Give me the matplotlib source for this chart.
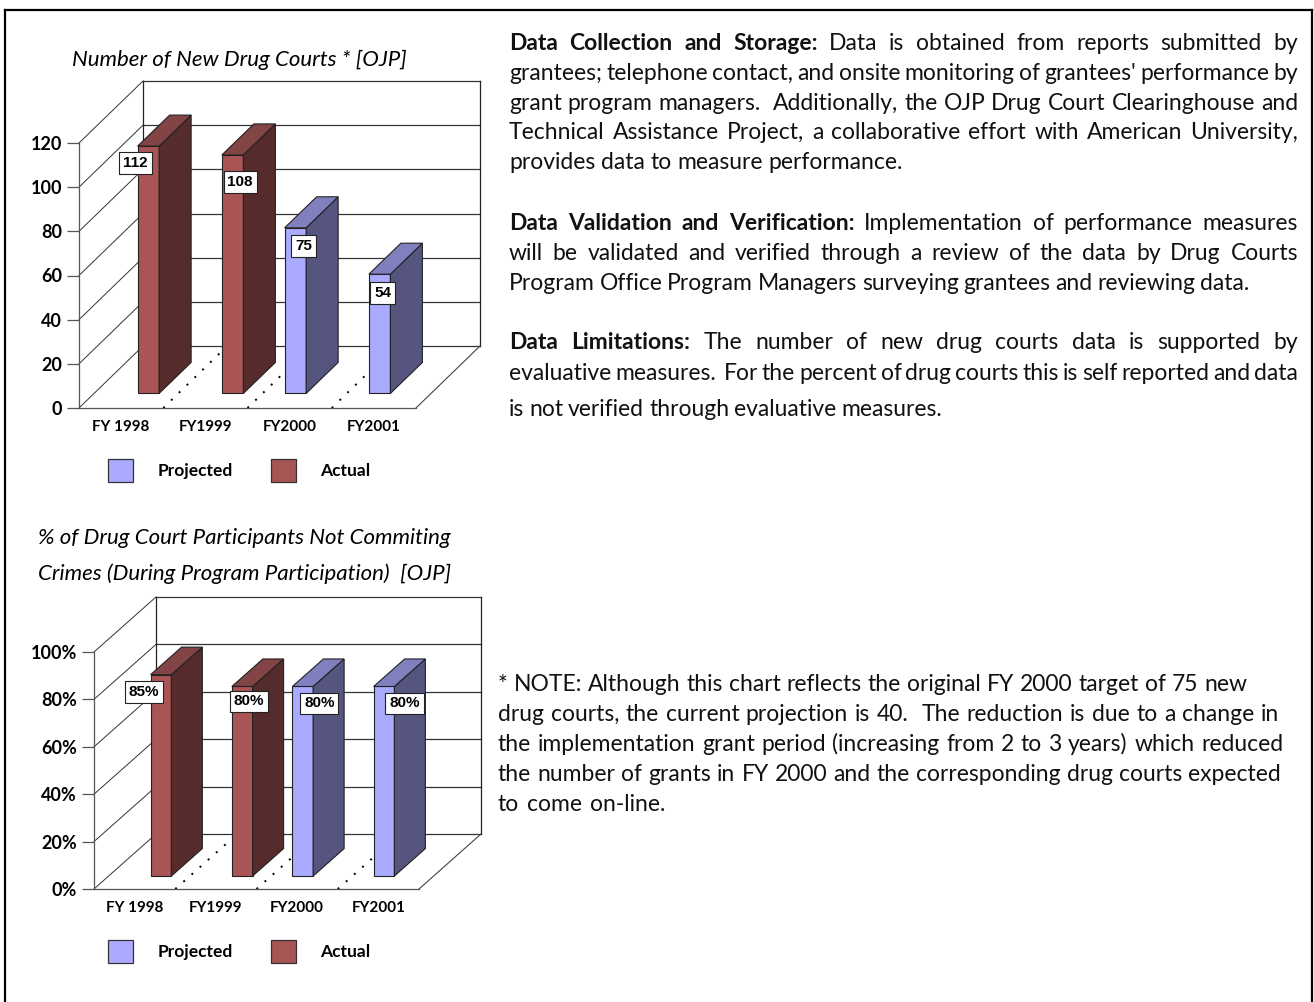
import matplotlib
matplotlib.use('Agg')
import matplotlib.pyplot as plt
from matplotlib.lines import Line2D
from matplotlib.patches import Patch

W, H = 1314, 1002

# chart data
years = ['FY 1998', 'FY1999', 'FY2000', 'FY2001']
is_actual = [True, True, False, False]
courts = [112, 108, 75, 54]
courts_ticks = [0, 20, 40, 60, 80, 100, 120]
courts_ticklabels = ['0', '20', '40', '60', '80', '100', '120']
pct = [85, 80, 80, 80]
pct_labels = ['85%', '80%', '80%', '80%']
pct_ticks = [0, 20, 40, 60, 80, 100]
pct_ticklabels = ['0%', '20%', '40%', '60%', '80%', '100%']
legend_names = ['Projected', 'Actual']

# colours: front, side, top
RED = ('#AA5555', '#562B2B', '#824444')
BLUE = ('#AAAAFF', '#555580', '#8080BF')
FONT = 'Lato'

fig = plt.figure(figsize=(W / 100, H / 100), dpi=100, facecolor='white')


def fx(x):
    return x / W


def fy(y):
    return 1 - y / H


def pts(p):  # pixels to points
    return p * 0.72


def bar3d_chart(left, right, base, top, depth_x, depth_y, values, labels, ticks, ticklabels, nudges, legend_y):
    ax = fig.add_axes([fx(left), fy(base), fx(right - left), (base - top) / H])
    ax.set_xlim(0, 4)
    ax.set_ylim(0, ticks[-1])
    ax.patch.set_visible(False)
    for name in ['top', 'right']:
        ax.spines[name].set_visible(False)
    for name in ['left', 'bottom']:
        ax.spines[name].set_color('#555555')
        ax.spines[name].set_linewidth(0.9)

    # wall depth in data units
    dx = depth_x / ((right - left) / 4)
    dy = depth_y / ((base - top) / ticks[-1])

    for v in ticks:
        ax.plot([0, dx], [v, v + dy], color='#333333', lw=0.7, clip_on=False, zorder=1)
        ax.plot([dx, 4 + dx], [v + dy, v + dy], color='#333333', lw=0.9, clip_on=False, zorder=1)
    ax.plot([dx, dx], [dy, ticks[-1] + dy], color='#222222', lw=0.9, clip_on=False, zorder=1)
    ax.plot([4 + dx, 4 + dx], [dy, ticks[-1] + dy], color='#222222', lw=0.9, clip_on=False, zorder=1)
    ax.plot([4, 4 + dx], [0, dy], color='#444444', lw=0.8, clip_on=False, zorder=1)

    # dotted floor lines between categories
    for i in [1, 2, 3]:
        ax.plot([i, i + dx], [0, dy], color='black', lw=1.4, ls=(0, (1, 4.6)), clip_on=False, zorder=2)

    # bars, actual and projected sit at different spots in the category
    for i, v in enumerate(values):
        cols = RED if is_actual[i] else BLUE
        off = 0.645 if is_actual[i] else 0.39
        w = 0.255
        x0 = i + off - w / 2 + 0.235 * dx
        y0 = 0.235 * dy
        bx = 0.5 * dx
        by = 0.5 * dy
        ax.bar(x0, v, w, bottom=y0, align='edge', color=cols[0], edgecolor='#222222', lw=0.8, clip_on=False, zorder=3 + i)
        ax.fill([x0 + w, x0 + w + bx, x0 + w + bx, x0 + w], [y0, y0 + by, y0 + v + by, y0 + v],
                facecolor=cols[1], edgecolor='#222222', lw=0.8, clip_on=False, zorder=3 + i)
        ax.fill([x0, x0 + bx, x0 + w + bx, x0 + w], [y0 + v, y0 + v + by, y0 + v + by, y0 + v],
                facecolor=cols[2], edgecolor='#222222', lw=0.8, clip_on=False, zorder=3 + i)
        ax.annotate(labels[i], (x0 + w / 2, y0 + v), xytext=(nudges[i][0], -nudges[i][1]),
                    textcoords='offset pixels', ha='center', va='center', fontsize=11, fontweight='bold',
                    family='Liberation Sans', annotation_clip=False, zorder=20,
                    bbox=dict(boxstyle='square,pad=0.25', fc='white', ec='#222222', lw=0.8))

    ax.set_yticks(ticks)
    ax.set_yticklabels(ticklabels, family=FONT, fontsize=13, fontweight='bold')
    ax.tick_params(axis='y', length=pts(12), width=0.9, color='#555555', pad=pts(5))
    ax.set_xticks([i + 0.5 for i in range(4)])
    ax.set_xticklabels(years, family=FONT, fontsize=11, fontweight='bold')
    ax.tick_params(axis='x', length=0, pad=pts(12))

    # legend below the plot
    handles = [Patch(facecolor=BLUE[0], edgecolor='#333333', lw=0.9), Patch(facecolor=RED[0], edgecolor='#333333', lw=0.9)]
    ax.legend(handles, legend_names, ncols=2, loc='lower left', bbox_to_anchor=(fx(108), fy(legend_y)),
              bbox_transform=fig.transFigure, frameon=False, borderpad=0, borderaxespad=0,
              handlelength=1.44, handleheight=1.63, handletextpad=1.39, columnspacing=2.2,
              prop={'family': FONT, 'size': 12.5, 'weight': 'bold'})
    return ax


bar3d_chart(79, 416, 408, 143, 64, 62, courts, [str(v) for v in courts], courts_ticks, courts_ticklabels,
            [(-13, 17), (7.5, 27), (8, 18), (3, 19)], 482)
bar3d_chart(94, 419, 889, 652, 62, 55, pct, pct_labels, pct_ticks, pct_ticklabels,
            [(-17, 17.5), (6.5, 15), (16.5, 17), (20.5, 17)], 963)

# chart titles
title_kw = dict(family=FONT, style='italic', fontsize=16, ha='left', va='center', color='black')
fig.text(fx(72), fy(60), 'Number of New Drug Courts * [OJP]', **title_kw)
fig.text(fx(38), fy(538), '% of Drug Court Participants Not Commiting', **title_kw)
fig.text(fx(38), fy(574), 'Crimes (During Program Participation)  [OJP]', **title_kw)

# body text: text, bold words, baseline y, x start, x end
body = [
    ('Data Collection and Storage: Data is obtained from reports submitted by', 4, 50, 509, 1298),
    ("grantees; telephone contact, and onsite monitoring of grantees' performance by", 0, 80, 509, 1298),
    ('grant program managers.  Additionally, the OJP Drug Court Clearinghouse and', 0, 110, 509, 1298),
    ('Technical Assistance Project, a collaborative effort with American University,', 0, 139, 509, 1298),
    ('provides data to measure performance.', 0, 169, 509, 903),
    ('Data Validation and Verification: Implementation of performance measures', 4, 230, 509, 1298),
    ('will be validated and verified through a review of the data by Drug Courts', 0, 260, 509, 1298),
    ('Program Office Program Managers surveying grantees and reviewing data.', 0, 290, 509, 1249),
    ('Data Limitations: The number of new drug courts data is supported by', 2, 349, 509, 1298),
    ('evaluative measures.  For the percent of drug courts this is self reported and data', 0, 380, 509, 1298),
    ('is not verified through evaluative measures.', 0, 416, 509, 942),
    ('* NOTE: Although this chart reflects the original FY 2000 target of 75 new', 0, 691, 498, 1247),
    ('drug courts, the current projection is 40.  The reduction is due to a change in', 0, 721, 498, 1279),
    ('the implementation grant period (increasing from 2 to 3 years) which reduced', 0, 751, 498, 1283),
    ('the number of grants in FY 2000 and the corresponding drug courts expected', 0, 781, 498, 1281),
    ('to come on-line.', 0, 811, 498, 665),
]

renderer = fig.canvas.get_renderer()
for text, n_bold, y, x0, x1 in body:
    tokens = text.split(' ')
    words = []
    k = 0
    gaps = 0
    for tok in tokens:
        if tok == '':
            gaps += 1
            continue
        t = fig.text(fx(x0), fy(y), tok, family=FONT, fontsize=16.5, va='baseline', ha='left', color='#111111',
                     fontweight='bold' if k < n_bold else 'normal')
        words.append((t, gaps, t.get_window_extent(renderer).width))
        gaps = 1
        k += 1
    # spread the words out so the line ends at x1
    total_gaps = sum(g for _, g, _ in words)
    gap = (x1 - x0 - sum(w for _, _, w in words)) / total_gaps
    x = x0
    for t, g, w in words:
        x += g * gap
        t.set_x(fx(x))
        x += w

# page border, open at the bottom
border = dict(color='black', lw=1.6, transform=fig.transFigure)
fig.add_artist(Line2D([fx(5), fx(1312)], [fy(10), fy(10)], **border))
fig.add_artist(Line2D([fx(5), fx(5)], [fy(10), 0], **border))
fig.add_artist(Line2D([fx(1312), fx(1312)], [fy(10), 0], **border))

plt.savefig('out.png', dpi=100)
plt.close()
